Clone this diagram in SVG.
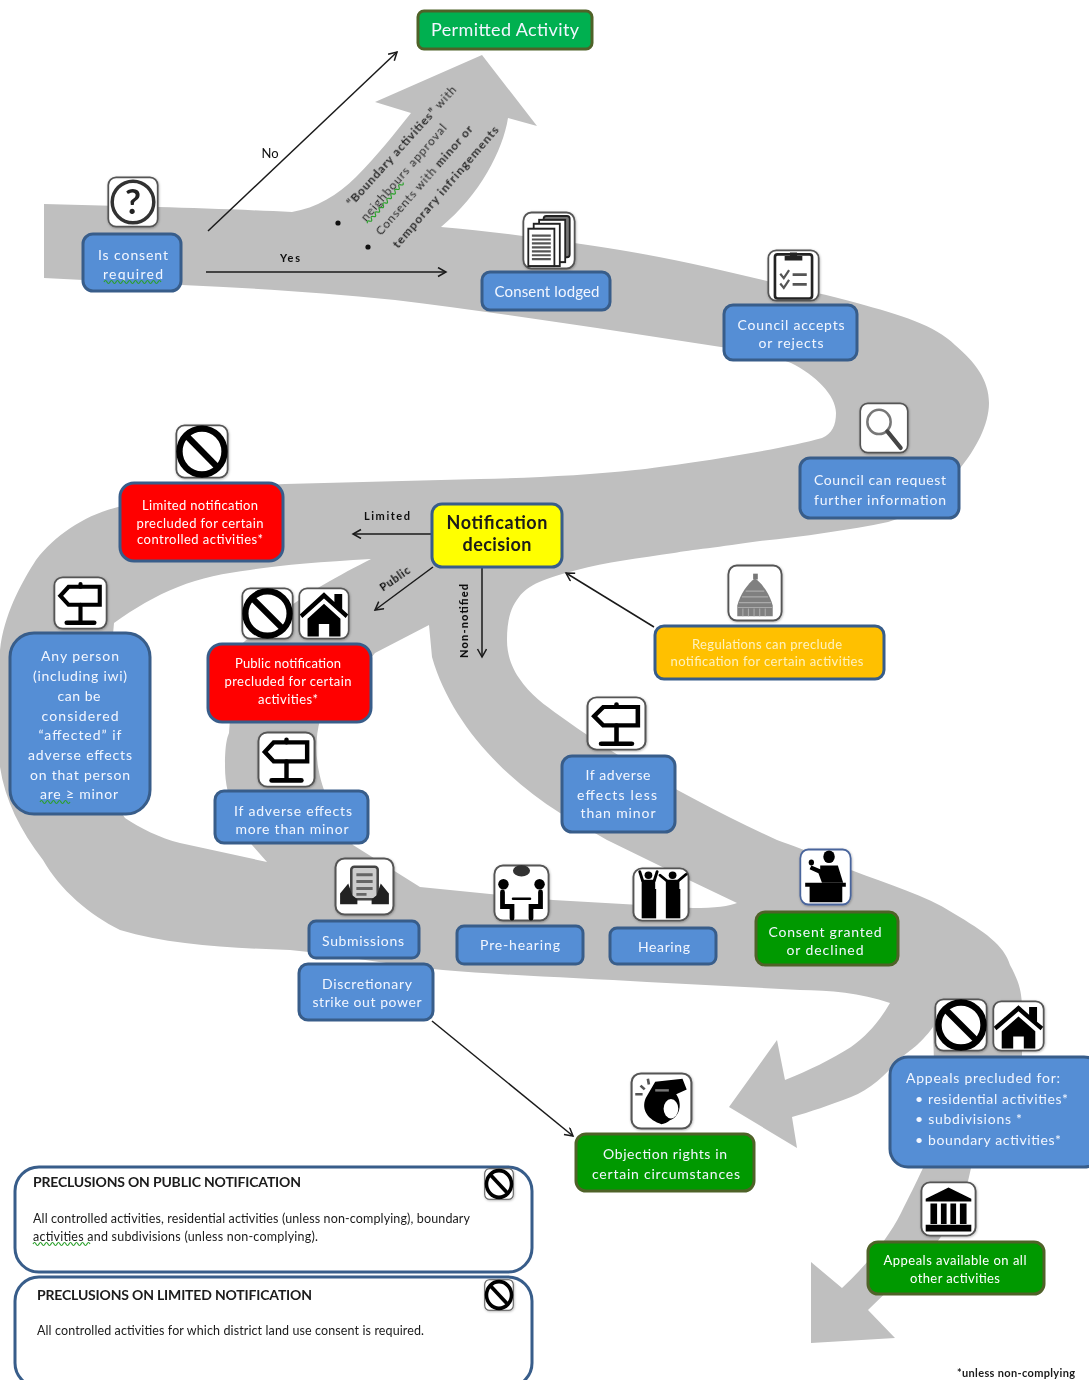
<svg xmlns="http://www.w3.org/2000/svg" width="1089" height="1380" viewBox="0 0 1089 1380">
<style>
text{font-family:Lato,"Open Sans","Liberation Sans",sans-serif;filter:url(#ts)}
use{filter:url(#soft)}
.box{stroke:#385d8a;stroke-width:3}
.blue{fill:#558ed5}.red{fill:#ff0000}.yellow{fill:#ffff00}.amber{fill:#ffc000}
.green{fill:#009900;stroke:#4f6228}.pgreen{fill:#00b050;stroke:#4f6228}
.panel{fill:#fff;stroke:#385d8a;stroke-width:3}
.t{fill:#f2f6ff;font-size:14px;text-anchor:middle}
.s{fill:#fff;font-size:13px;text-anchor:middle}
.a{fill:#fff2bf;font-size:13px;text-anchor:middle}
.d{fill:#1a1a1a}
.lbl{fill:#111;font-size:12px;text-anchor:middle}
.rot{fill:#2b2b2b;font-size:12px}
.con{fill:none;stroke:#1a1a1a;stroke-width:1.5;marker-end:url(#arr)}
.squig{fill:none;stroke:#2ca02c;stroke-width:1.2}
.fr{fill:#fff;stroke:#555;stroke-width:2}
.k{fill:none;stroke:#000;stroke-linecap:round}
</style>
<defs>
<marker id="arr" markerWidth="12" markerHeight="12" refX="9" refY="5" orient="auto" markerUnits="userSpaceOnUse"><path d="M1,0.5 L9,5 L1,9.5" fill="none" stroke="#1a1a1a" stroke-width="1.5"/></marker>
<filter id="soft" x="-15%" y="-15%" width="130%" height="130%"><feDropShadow dx="0.5" dy="0.8" stdDeviation="1" flood-color="#000" flood-opacity="0.3"/><feGaussianBlur stdDeviation="0.6"/></filter>
<filter id="ts" x="-5%" y="-30%" width="110%" height="160%"><feGaussianBlur stdDeviation="0.3"/></filter>
<symbol id="i-q" viewBox="0 0 60 60" preserveAspectRatio="none"><rect class="fr" x="1.5" y="1.5" width="57" height="57" rx="9"/><circle cx="30" cy="30" r="24" fill="none" stroke="#333" stroke-width="4"/><text x="30" y="44" font-size="40" font-weight="700" text-anchor="middle" fill="#222" style="filter:none">?</text></symbol>
<symbol id="i-no" viewBox="0 0 60 60" preserveAspectRatio="none"><rect class="fr" x="1.5" y="1.5" width="57" height="57" rx="9"/><circle cx="30" cy="30" r="25" fill="none" stroke="#000" stroke-width="7"/><path d="M12,12 L48,48" stroke="#000" stroke-width="7"/></symbol>
<symbol id="i-house" viewBox="0 0 60 60" preserveAspectRatio="none"><rect class="fr" x="1.5" y="1.5" width="57" height="57" rx="9"/><path d="M2,31 L30,6 L42,17 V8 H51 V25 L58,31 L55,35 L30,13 L5,35Z"/><path d="M11,36 L30,19 L49,36 V56 H36 V42 H24 V56 H11Z"/></symbol>
<symbol id="i-sign" viewBox="0 0 60 60" preserveAspectRatio="none"><rect class="fr" x="1.5" y="1.5" width="57" height="57" rx="9"/><path class="k" stroke-width="4.5" d="M8,22 L17,12 H51 V32 H17Z"/><path class="k" stroke-width="4.5" d="M30,9 V12 M30,32 V50"/><path class="k" stroke-width="5" d="M15,52 H45"/></symbol>
<symbol id="i-docs" viewBox="0 0 60 60" preserveAspectRatio="none"><rect class="fr" x="1.5" y="1.5" width="57" height="57" rx="9"/><g fill="#fff" stroke="#222" stroke-width="2"><rect x="24" y="5" width="29" height="42" rx="3" fill="#777"/><rect x="19" y="9" width="29" height="43"/><rect x="13" y="13" width="29" height="43"/><rect x="7" y="18" width="29" height="38"/></g><path d="M11,25 H32 M11,29 H32 M11,33 H32 M11,37 H32 M11,41 H32 M11,45 H32 M11,49 H32" stroke="#555" stroke-width="2.2"/></symbol>
<symbol id="i-clip" viewBox="0 0 60 60" preserveAspectRatio="none"><rect class="fr" x="1.5" y="1.5" width="57" height="57" rx="9"/><rect x="9" y="6" width="42" height="50" rx="3" fill="#fff" stroke="#222" stroke-width="3"/><path d="M20,11 V8 H26 V4 H34 V8 H40 V13 H20Z" fill="#222"/><path d="M15,28 L19,33 L25,24 M15,39 L19,44 L25,35" fill="none" stroke="#555" stroke-width="2.5"/><path d="M29,29 H45 M29,40 H45" stroke="#555" stroke-width="3"/></symbol>
<symbol id="i-mag" viewBox="0 0 60 60" preserveAspectRatio="none"><rect class="fr" x="1.5" y="1.5" width="57" height="57" rx="9"/><circle cx="24" cy="23" r="14" fill="none" stroke="#777" stroke-width="3"/><path d="M34,34 L50,53" stroke="#444" stroke-width="5" stroke-linecap="round"/></symbol>
<symbol id="i-dome" viewBox="0 0 60 60" preserveAspectRatio="none"><rect class="fr" x="1.5" y="1.5" width="57" height="57" rx="9"/><path d="M28,10 H33 V16 H28Z" fill="#777"/><path d="M30,15 C38,20 46,32 49,43 V54 H11 V43 C14,32 22,20 30,15Z" fill="#808080"/><path d="M20,28 H40 M16,34 H44 M13,40 H47 M11,45 H49 M17,46 V54 M23,46 V54 M29,46 V54 M35,46 V54 M41,46 V54" stroke="#aaa" stroke-width="1.2"/></symbol>
<symbol id="i-sub" viewBox="0 0 60 60" preserveAspectRatio="none"><rect class="fr" x="1.5" y="1.5" width="57" height="57" rx="9"/><rect x="17" y="10" width="26" height="33" rx="3" fill="#ccc" stroke="#444" stroke-width="2.5"/><path d="M22,18 H38 M22,25 H38 M22,32 H38 M22,38 H32" stroke="#666" stroke-width="3"/><path d="M6,47 V37 L14,27 L18,39 L23,43 V48 H6Z M54,47 V37 L46,27 L42,39 L37,43 V48 H54Z" fill="#222"/></symbol>
<symbol id="i-pre" viewBox="0 0 60 60" preserveAspectRatio="none"><rect class="fr" x="1.5" y="1.5" width="57" height="57" rx="9"/><ellipse cx="30" cy="7" rx="9" ry="6" fill="#333"/><circle cx="11" cy="21" r="5.5"/><circle cx="49" cy="21" r="5.5"/><path class="k" stroke-width="5" d="M10,29 V44 H20 V56 M50,29 V44 H40 V56"/><path class="k" stroke-width="2.5" d="M21,36 H39"/></symbol>
<symbol id="i-hear" viewBox="0 0 60 60" preserveAspectRatio="none"><rect class="fr" x="1.5" y="1.5" width="57" height="57" rx="9"/><circle cx="17" cy="9" r="4"/><circle cx="42" cy="9" r="4"/><path d="M10,14 H24 L24,24 H10Z M35,14 H49 V24 H35Z"/><path class="k" stroke-width="3" d="M11,15 L8,5 M23,15 L26,5 M36,15 L29,9 M48,15 L56,8"/><rect x="10" y="24" width="15" height="32"/><rect x="35" y="24" width="15" height="32"/></symbol>
<symbol id="i-judge" viewBox="0 0 60 60" preserveAspectRatio="none"><rect x="1.5" y="1.5" width="57" height="57" rx="9" fill="#fff" stroke="#4a659c" stroke-width="2"/><circle cx="34" cy="9" r="6.5"/><path d="M24,18 H44 L50,36 H26 L22,26 L12,22 L14,18 L24,22Z"/><circle cx="14" cy="15" r="3"/><path d="M7,36 H53 V40 H49 V56 H12 V40 H7Z"/></symbol>
<symbol id="i-whistle" viewBox="0 0 60 60" preserveAspectRatio="none"><rect class="fr" x="1.5" y="1.5" width="57" height="57" rx="9"/><path d="M24,10 L50,7 L54,18 L44,23 C50,32 48,46 38,50 C36,52 32,54 30,54 C18,50 10,40 15,27Z" fill="#000"/><ellipse cx="39" cy="38" rx="7" ry="10" fill="#fff"/><path d="M24,19 H37" stroke="#777" stroke-width="2.5"/><path d="M10,14 L14,18 M5,23 L12,23 M17,7 L18,13" stroke="#555" stroke-width="2.5"/></symbol>
<symbol id="i-court" viewBox="0 0 60 60" preserveAspectRatio="none"><rect class="fr" x="1.5" y="1.5" width="57" height="57" rx="9"/><path d="M30,7 L54,19 V22 H6 V19Z"/><path d="M11,24 H18 V46 H11Z M22,24 H28 V46 H22Z M32,24 H38 V46 H32Z M42,24 H49 V46 H42Z"/><path d="M6,47 H54 V54 H6Z"/></symbol>
</defs>

<g id="road"><path fill="#bfbfbf" fill-rule="evenodd" d="M44,204 L158,207 C200,208 250,210 292,212 C316,208 338,195 356,177 C378,155 395,133 411,113 L375,102 L482,55 L537,126 L508,118 C503,150 480,195 441,227 C500,232 570,242 620,250 C680,260 720,270 763,280 C800,290 830,295 857,303 C900,315 935,325 955,345 C975,362 989,380 989,403 C989,425 975,450 961,467 C950,485 930,510 888,522 C850,530 800,537 760,541 C720,547 690,550 674,553 C640,558 605,562 577,570 C545,578 528,585 519,597 C510,608 507,622 507,640 C507,655 512,668 519,678 C530,695 545,705 560,716 C620,760 700,805 777,840 C810,852 830,860 851,870 C890,885 925,895 953,913 C985,932 1004,945 1010,965 C1018,980 1022,990 1022,1010 L1022,1060 L1000,1120 L971,1168 C965,1200 950,1225 935,1245 L868,1310 L895,1338 L811,1343 L811,1262 L842,1288 C870,1262 890,1235 901,1213 C910,1195 915,1185 923,1168 L935,1100 L933,1027 C920,1045 910,1050 902,1057 C885,1075 870,1090 851,1097 C830,1105 810,1112 792,1117 L797,1148 L729,1107 L777,1040 L785,1080 C810,1070 830,1060 851,1047 C870,1033 880,1020 890,1003 C860,993 830,990 800,990 L647,982 C580,978 500,975 443,970 C390,965 340,955 290,950 C230,948 170,945 120,930 C90,915 60,890 43,860 C20,830 5,800 0,767 L0,650 C4,615 20,585 36,560 C55,535 85,515 118,507 C170,495 230,486 285,484 L480,479 C530,478 590,475 635,470 C680,465 780,450 822,438 C832,434 836,425 836,413 C836,395 815,375 791,363 C770,355 745,350 721,347 L597,328 C530,318 460,308 395,300 C320,292 250,288 182,285 L44,278Z
M371,559 C320,562 280,565 250,570 C225,573 200,578 178,587 C155,596 135,608 114,623 L100,780 L125,818 C140,828 160,838 180,843 L267,862 L252,845 C240,825 225,800 225,767 C225,745 227,738 229,733 L235,650 C290,600 340,575 371,559Z
M429,625 L375,653 L320,720 C312,750 315,790 353,845 L420,887 L480,893 L553,900 L693,908 C715,908 730,906 737,903 L693,882 L607,840 L560,813 C500,775 450,720 432,657Z"/></g>

<g id="boundary-label">
<text class="rot" transform="translate(352,207) rotate(-48)" textLength="157"><tspan font-weight="700">“Boundary activities”</tspan> with</text>
<text class="rot" transform="translate(366,222) rotate(-49)" textLength="124">neighbours approval</text>
<text class="rot" transform="translate(381,236) rotate(-49)" textLength="141">Consents with <tspan font-weight="700">minor or</tspan></text>
<text class="rot" transform="translate(398,249) rotate(-49.5)" font-weight="700" textLength="156">temporary infringements</text>
<circle cx="338" cy="223" r="2.6" fill="#111"/><circle cx="368" cy="247" r="2.6" fill="#111"/>
<path class="squig" transform="translate(366,222) rotate(-49)" d="M0,2 q1.5,-3 3,0 t3,0 t3,0 t3,0 t3,0 t3,0 t3,0 t3,0 t3,0 t3,0 t3,0 t3,0 t3,0 t3,0 t3,0 t3,0 t3,0 t3,0"/>
</g>

<g id="connectors">
<path class="con" d="M208,231 L397,52"/>
<path class="con" d="M206,272 L446,272"/>
<path class="con" d="M431,534 L353,534"/>
<path class="con" d="M433,567 L375,610"/>
<path class="con" d="M482,568 L482,657"/>
<path class="con" d="M654,627 L566,573"/>
<path class="con" d="M432,1021 L573,1136"/>
<text class="lbl" x="270" y="158" style="font-size:13px">No</text>
<text class="lbl" x="290" y="262" textLength="20" font-weight="700" style="font-size:11px">Yes</text>
<text class="lbl" x="387" y="520" textLength="46" font-weight="700" style="font-size:11px">Limited</text>
<text class="lbl" transform="translate(397,582) rotate(-35)" textLength="34" font-weight="700" style="font-size:11px">Public</text>
<text class="lbl" transform="translate(468,621) rotate(-90)" textLength="74" font-weight="900" style="font-size:11px">Non-notified</text>
</g>

<g id="n-permitted"><rect class="pgreen" x="418" y="11" width="174" height="38" rx="6" stroke-width="3"/><text class="t" x="505" y="36" textLength="148" style="font-size:18px">Permitted Activity</text></g>

<g id="n-consent-required"><use href="#i-q" x="107" y="176" width="52" height="52"/><rect class="box blue" x="83" y="234" width="98" height="57" rx="10"/><text class="t" x="133" y="260" textLength="70">Is consent</text><text class="t" x="133" y="279" textLength="60">required</text><path class="squig" d="M104,282 q1.5,-3 3,0 t3,0 t3,0 t3,0 t3,0 t3,0 t3,0 t3,0 t3,0 t3,0 t3,0 t3,0 t3,0 t3,0 t3,0 t3,0 t3,0 t3,0 t3,0"/></g>

<g id="n-lodged"><use href="#i-docs" x="522" y="211" width="54" height="59"/><rect class="box blue" x="482" y="272" width="128" height="38" rx="8"/><text class="t" x="547" y="297" textLength="105" style="font-size:15px">Consent lodged</text></g>

<g id="n-accepts"><use href="#i-clip" x="767" y="249" width="53" height="53"/><rect class="box blue" x="724" y="305" width="133" height="55" rx="9"/><text class="t" x="791" y="330" textLength="107">Council accepts</text><text class="t" x="791" y="348" textLength="65">or rejects</text></g>

<g id="n-request"><use href="#i-mag" x="859" y="402" width="50" height="52"/><rect class="box blue" x="800" y="458" width="159" height="60" rx="10"/><text class="t" x="880" y="485" textLength="132">Council can request</text><text class="t" x="880" y="505" textLength="132">further information</text></g>

<g id="n-limited"><use href="#i-no" x="175" y="424" width="54" height="55"/><rect class="box red" x="120" y="483" width="163" height="78" rx="14"/><text class="s" x="200" y="510" textLength="116">Limited notification</text><text class="s" x="200" y="528" textLength="127">precluded for certain</text><text class="s" x="200" y="544" textLength="126">controlled activities*</text></g>

<g id="n-notification"><rect class="box yellow" x="432" y="504" width="130" height="63" rx="10"/><text class="d" x="497" y="529" text-anchor="middle" textLength="101" font-weight="700" font-size="18">Notification</text><text class="d" x="497" y="551" text-anchor="middle" textLength="69" font-weight="700" font-size="18">decision</text></g>

<g id="n-regulations"><use href="#i-dome" x="727" y="564" width="56" height="58"/><rect class="box amber" x="655" y="626" width="229" height="53" rx="9"/><text class="a" x="767" y="649" textLength="150">Regulations can preclude</text><text class="a" x="767" y="666" textLength="193">notification for certain activities</text></g>

<g id="n-any-person"><use href="#i-sign" x="53" y="576" width="55" height="54"/><rect class="box blue" x="10" y="633" width="140" height="181" rx="24"/>
<text class="t" x="80" y="661" textLength="78">Any person</text><text class="t" x="80" y="681" textLength="94">(including iwi)</text><text class="t" x="79" y="701" textLength="43">can be</text><text class="t" x="80" y="721" textLength="77">considered</text><text class="t" x="80" y="740" textLength="83">“affected” if</text><text class="t" x="80" y="760" textLength="104">adverse effects</text><text class="t" x="80" y="780" textLength="100">on that person</text><text class="t" x="79" y="799" textLength="78">are ≥ minor</text><path class="squig" d="M40,802 q1.5,-3 3,0 t3,0 t3,0 t3,0 t3,0 t3,0 t3,0 t3,0 t3,0 t3,0"/></g>

<g id="n-public"><use href="#i-no" x="241" y="587" width="53" height="53"/><use href="#i-house" x="298" y="587" width="52" height="53"/><rect class="box red" x="208" y="644" width="163" height="78" rx="14"/><text class="s" x="288" y="668" textLength="106">Public notification</text><text class="s" x="288" y="686" textLength="127">precluded for certain</text><text class="s" x="288" y="704" textLength="60">activities*</text></g>

<g id="n-more-than-minor"><use href="#i-sign" x="257" y="731" width="59" height="57"/><rect class="box blue" x="215" y="791" width="153" height="52" rx="9"/><text class="t" x="293" y="816" textLength="118">If adverse effects</text><text class="t" x="292" y="834" textLength="113">more than minor</text></g>

<g id="n-less-than-minor"><use href="#i-sign" x="586" y="696" width="61" height="55"/><rect class="box blue" x="562" y="756" width="113" height="76" rx="10"/><text class="t" x="618" y="780" textLength="65">If adverse</text><text class="t" x="617" y="800" textLength="80">effects less</text><text class="t" x="618" y="818" textLength="75">than minor</text></g>

<g id="n-submissions"><use href="#i-sub" x="334" y="857" width="61" height="59"/><rect class="box blue" x="309" y="921" width="110" height="37" rx="7"/><text class="t" x="363" y="946" textLength="82">Submissions</text></g>

<g id="n-strikeout"><rect class="box blue" x="299" y="964" width="134" height="56" rx="9"/><text class="t" x="367" y="989" textLength="90">Discretionary</text><text class="t" x="367" y="1007" textLength="109">strike out power</text></g>

<g id="n-prehearing"><use href="#i-pre" x="493" y="864" width="57" height="58"/><rect class="box blue" x="457" y="926" width="126" height="38" rx="7"/><text class="t" x="520" y="950" textLength="80">Pre-hearing</text></g>

<g id="n-hearing"><use href="#i-hear" x="632" y="867" width="58" height="55"/><rect class="box blue" x="610" y="928" width="106" height="36" rx="7"/><text class="t" x="664" y="952" textLength="52">Hearing</text></g>

<g id="n-granted"><use href="#i-judge" x="799" y="848" width="53" height="58"/><rect class="green" x="756" y="912" width="142" height="53" rx="9" stroke-width="3"/><text class="t" x="825" y="937" textLength="113">Consent granted</text><text class="t" x="825" y="955" textLength="77">or declined</text></g>

<g id="n-objection"><use href="#i-whistle" x="630" y="1072" width="63" height="58"/><rect class="green" x="576" y="1134" width="178" height="57" rx="10" stroke-width="3"/><text class="t" x="665" y="1159" textLength="124">Objection rights in</text><text class="t" x="666" y="1179" textLength="148">certain circumstances</text></g>

<g id="n-appeals-precluded"><use href="#i-no" x="934" y="998" width="54" height="54"/><use href="#i-house" x="992" y="1000" width="53" height="52"/><rect class="box blue" x="890" y="1057" width="212" height="110" rx="18"/><text class="t" x="906" y="1083" textLength="154" style="text-anchor:start">Appeals precluded for:</text><text class="t" x="915" y="1104" textLength="153" style="text-anchor:start">• residential activities*</text><text class="t" x="915" y="1124" textLength="107" style="text-anchor:start">• subdivisions *</text><text class="t" x="915" y="1145" textLength="146" style="text-anchor:start">• boundary activities*</text></g>

<g id="n-appeals-available"><use href="#i-court" x="920" y="1181" width="57" height="56"/><rect class="green" x="868" y="1242" width="176" height="52" rx="10" stroke-width="3"/><text class="s" x="955" y="1265" textLength="143">Appeals available on all</text><text class="s" x="955" y="1283" textLength="90">other activities</text></g>

<g id="panel-public"><rect class="panel" x="15" y="1167" width="517" height="105" rx="24"/><text class="d" x="33" y="1187" textLength="268" font-weight="700" font-size="14">PRECLUSIONS ON PUBLIC NOTIFICATION</text><text class="d" x="33" y="1223" textLength="437" font-size="12.5">All controlled activities, residential activities (unless non-complying), boundary</text><text class="d" x="33" y="1241" textLength="285" font-size="12.5">activities and subdivisions (unless non-complying).</text><path class="squig" d="M33,1244 q1.5,-3 3,0 t3,0 t3,0 t3,0 t3,0 t3,0 t3,0 t3,0 t3,0 t3,0 t3,0 t3,0 t3,0 t3,0 t3,0 t3,0 t3,0 t3,0 t3,0"/><use href="#i-no" x="484" y="1168" width="30" height="32"/></g>

<g id="panel-limited"><rect class="panel" x="15" y="1277" width="517" height="110" rx="24"/><text class="d" x="37" y="1300" textLength="275" font-weight="700" font-size="14">PRECLUSIONS ON LIMITED NOTIFICATION</text><text class="d" x="37" y="1335" textLength="387" font-size="12.5">All controlled activities for which district land use consent is required.</text><use href="#i-no" x="484" y="1279" width="30" height="32"/></g>

<text id="footnote" class="d" x="957" y="1377" textLength="118" font-size="11" font-weight="700">*unless non-complying</text>
</svg>
